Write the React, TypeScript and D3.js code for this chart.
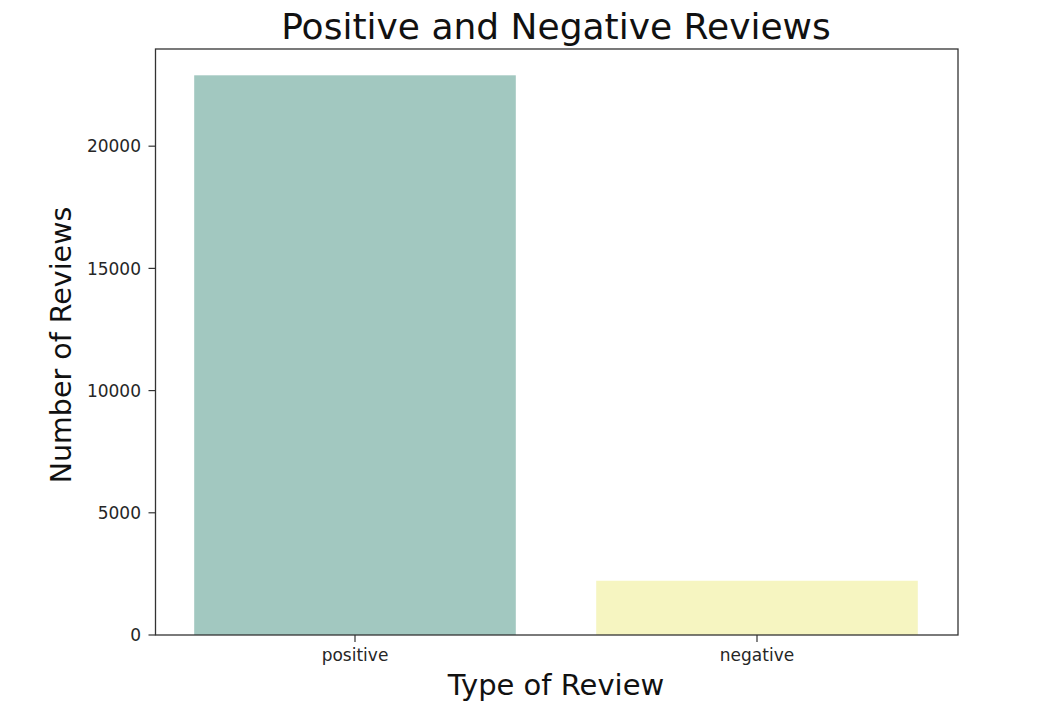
import React from "react";
import * as d3 from "d3";

const categories = ["positive", "negative"];
const counts = [22900, 2220];
const colors = ["#a2c8c0", "#f6f5c1"];
const yTicks = [0, 5000, 10000, 15000, 20000];

const W = 1048;
const H = 714;
const M = { left: 155.5, right: 958, top: 49, bottom: 635 };
const FONT = "DejaVu Sans, sans-serif";

export default function App() {
  const x = d3
    .scaleBand<string>()
    .domain(categories)
    .range([154, 958])
    .paddingInner(0.2)
    .paddingOuter(0.1);
  const yMax = (d3.max(counts) as number) * 1.047;
  const y = d3.scaleLinear().domain([0, yMax]).range([M.bottom, M.top]);

  return (
    <svg
      width={W}
      height={H}
      style={{ position: "absolute", left: 0, top: 0, background: "#fff" }}
      fontFamily={FONT}
    >
      <text x={556} y={39} textAnchor="middle" fontSize={36} fill="#111">
        Positive and Negative Reviews
      </text>
      {categories.map((c, i) => (
        <rect
          key={c}
          x={x(c)}
          y={y(counts[i])}
          width={x.bandwidth()}
          height={y(0) - y(counts[i])}
          fill={colors[i]}
        />
      ))}
      <rect
        x={M.left}
        y={M.top}
        width={M.right - M.left}
        height={M.bottom - M.top}
        fill="none"
        stroke="#333"
        strokeWidth={1.3}
      />
      {yTicks.map((t) => (
        <g key={t}>
          <line x1={M.left - 7} x2={M.left} y1={y(t)} y2={y(t)} stroke="#333" strokeWidth={1.2} />
          <text x={141} y={y(t)} dy="0.36em" textAnchor="end" fontSize={17} fill="#262626">
            {t}
          </text>
        </g>
      ))}
      {categories.map((c) => {
        const cx = (x(c) as number) + x.bandwidth() / 2;
        return (
          <g key={c}>
            <line x1={cx} x2={cx} y1={M.bottom} y2={M.bottom + 7} stroke="#333" strokeWidth={1.2} />
            <text x={cx} y={661} textAnchor="middle" fontSize={17} fill="#262626">
              {c}
            </text>
          </g>
        );
      })}
      <text x={556} y={695} textAnchor="middle" fontSize={29} fill="#111">
        Type of Review
      </text>
      <text
        transform={`translate(71, 345) rotate(-90)`}
        textAnchor="middle"
        fontSize={28.5}
        fill="#111"
      >
        Number of Reviews
      </text>
    </svg>
  );
}
